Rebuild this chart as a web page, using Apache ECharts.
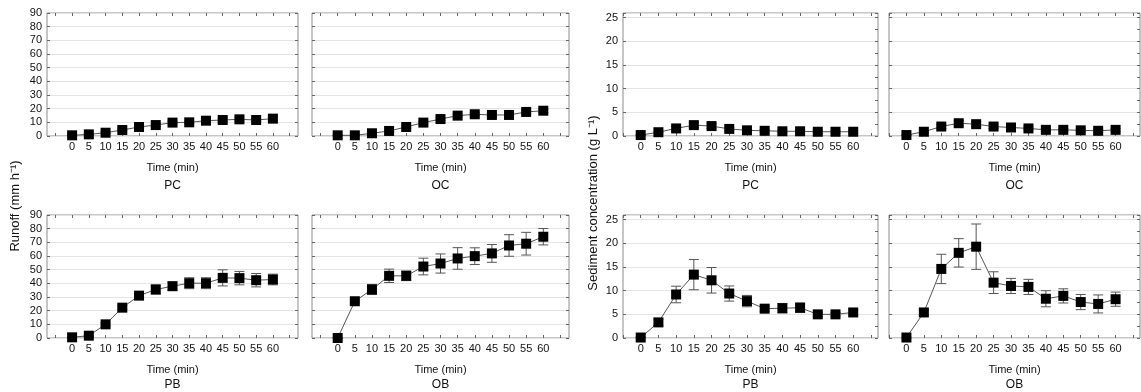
<!DOCTYPE html>
<html>
<head>
<meta charset="utf-8">
<script src="https://cdn.jsdelivr.net/npm/echarts@6/dist/echarts.min.js"></script>
<style>
html,body{margin:0;padding:0;background:#fff;}
#chart{width:1141px;height:392px;}
</style>
</head>
<body>
<div id="chart"></div>
<script>
// ---- data ----
const times = [0, 5, 10, 15, 20, 25, 30, 35, 40, 45, 50, 55, 60];

const runoffPC = [0.5, 1.2, 2.4, 4.4, 6.6, 8.0, 9.8, 10.0, 11.2, 11.7, 12.2, 11.7, 12.7];
const runoffPCErr = [0.2, 0.3, 0.5, 0.8, 1.0, 1.0, 1.0, 1.0, 1.2, 1.3, 1.3, 1.2, 1.3];
const runoffOC = [0.5, 0.5, 2.0, 3.7, 6.6, 9.8, 12.4, 14.9, 15.9, 15.4, 15.4, 17.6, 18.5];
const runoffOCErr = [0.2, 0.2, 0.5, 0.8, 1.0, 1.0, 1.0, 1.0, 1.2, 1.2, 1.2, 1.2, 1.3];
const runoffPB = [0.5, 1.7, 10.0, 22.2, 31.0, 35.5, 37.9, 40.1, 40.1, 44.0, 43.8, 42.3, 42.8];
const runoffPBErr = [0.3, 0.5, 1.0, 1.2, 2.7, 3.3, 3.0, 4.0, 4.0, 5.9, 4.9, 4.9, 3.9];
const runoffOB = [0.0, 26.9, 35.5, 45.5, 45.5, 52.3, 54.5, 58.2, 59.9, 61.9, 67.7, 69.0, 74.1];
const runoffOBErr = [0.2, 1.0, 3.7, 4.9, 3.5, 6.1, 7.0, 7.9, 6.1, 6.5, 7.9, 8.3, 6.0];

const sedPC = [0.2, 0.8, 1.6, 2.3, 2.1, 1.5, 1.2, 1.1, 1.0, 1.0, 0.9, 0.9, 0.9];
const sedPCErr = [0.1, 0.2, 0.4, 0.5, 0.5, 0.3, 0.3, 0.3, 0.3, 0.3, 0.3, 0.3, 0.3];
const sedOC = [0.2, 0.9, 2.0, 2.7, 2.5, 2.0, 1.8, 1.6, 1.3, 1.3, 1.2, 1.1, 1.3];
const sedOCErr = [0.1, 0.2, 0.4, 0.5, 0.5, 0.4, 0.4, 0.3, 0.3, 0.3, 0.3, 0.3, 0.3];
const sedPB = [0.1, 3.3, 9.2, 13.4, 12.2, 9.4, 7.8, 6.2, 6.3, 6.4, 5.0, 5.0, 5.4];
const sedPBErr = [0.1, 0.7, 1.75, 3.2, 2.7, 1.6, 1.2, 0.5, 1.0, 1.0, 0.4, 0.4, 0.5];
const sedOB = [0.1, 5.4, 14.6, 18.0, 19.3, 11.7, 11.0, 10.8, 8.3, 8.9, 7.6, 7.2, 8.2];
const sedOBErr = [0.1, 0.5, 3.1, 3.0, 4.8, 2.3, 1.6, 1.6, 1.7, 1.5, 1.6, 1.9, 1.5];

const runoffYLabels = [0, 10, 20, 30, 40, 50, 60, 70, 80, 90];
const sedYLabels = [0, 5, 10, 15, 20, 25];
const xTicks = [-5, 0, 5, 10, 15, 20, 25, 30, 35, 40, 45, 50, 55, 60, 65];

const panelNames = ['PC', 'OC', 'PB', 'OB', 'PC', 'OC', 'PB', 'OB'];
const panelValues = [runoffPC, runoffOC, runoffPB, runoffOB, sedPC, sedOC, sedPB, sedOB];
const panelErrors = [runoffPCErr, runoffOCErr, runoffPBErr, runoffOBErr, sedPCErr, sedOCErr, sedPBErr, sedOBErr];

// ---- layout (styles/positions) ----
const FONT = 'Liberation Sans, Arial, sans-serif';
const boxes = [
  {left: 47, top: 13, width: 251, height: 123},
  {left: 312, top: 13, width: 257, height: 123},
  {left: 47, top: 215, width: 251, height: 123},
  {left: 312, top: 215, width: 257, height: 123},
  {left: 623, top: 13, width: 255, height: 123},
  {left: 889, top: 13, width: 251, height: 123},
  {left: 623, top: 215, width: 255, height: 123},
  {left: 889, top: 215, width: 251, height: 123}
];

const grids = [], xAxes = [], yAxes = [], series = [];
boxes.forEach((b, i) => {
  const sed = i >= 4;
  const bottomRow = (i % 4) >= 2;
  const showY = (i % 2) === 0;
  grids.push({left: b.left, top: b.top, width: b.width, height: b.height,
    show: true, borderColor: '#8c8c8c', borderWidth: 1, backgroundColor: '#fff',
    containLabel: false, outerBoundsMode: 'none'});
  const xmin = sed ? -5 : -7.5, xmax = sed ? 67 : 67.5;
  const tickStyle = {show: true, inside: true, length: 3, customValues: xTicks, lineStyle: {color: '#666'}};
  xAxes.push({
    type: 'value', gridIndex: i, position: 'bottom', min: xmin, max: xmax,
    axisLine: {show: false, onZero: false}, splitLine: {show: false},
    axisTick: tickStyle,
    axisLabel: {customValues: times, color: '#111', fontFamily: FONT, fontSize: 11, margin: 5},
    name: '{a|Time (min)}\n{b|' + panelNames[i] + '}',
    nameLocation: 'middle', nameGap: bottomRow ? 24 : 23,
    nameTextStyle: {
      rich: {
        a: {fontFamily: FONT, fontSize: 11, color: '#111', lineHeight: bottomRow ? 15 : 18},
        b: {fontFamily: FONT, fontSize: 12, color: '#111', lineHeight: bottomRow ? 15 : 18}
      }
    }
  });
  xAxes.push({
    type: 'value', gridIndex: i, position: 'top', min: xmin, max: xmax,
    axisLine: {show: false, onZero: false}, splitLine: {show: false},
    axisTick: tickStyle, axisLabel: {show: false}
  });
  const ymax = sed ? 26 : 90;
  const yint = sed ? 5 : 10;
  yAxes.push({
    type: 'value', gridIndex: i, position: 'left', min: 0, max: ymax, interval: yint,
    axisLine: {show: false, onZero: false},
    axisTick: {show: true, inside: true, length: 3, lineStyle: {color: '#666'}},
    splitLine: {show: true, lineStyle: {color: '#e4e4e4', width: 1}},
    axisLabel: {show: showY, customValues: sed ? sedYLabels : runoffYLabels,
      color: '#111', fontFamily: FONT, fontSize: 11, margin: 5}
  });
  yAxes.push({
    type: 'value', gridIndex: i, position: 'right', min: 0, max: ymax, interval: yint,
    axisLine: {show: false, onZero: false}, splitLine: {show: false},
    axisTick: {show: true, inside: true, length: 3, lineStyle: {color: '#666'}},
    minorTick: {show: sed, splitNumber: 2, length: 3, lineStyle: {color: '#666'}},
    axisLabel: {show: false}
  });

  const vals = panelValues[i], errs = panelErrors[i];
  series.push({
    type: 'custom', xAxisIndex: 2 * i, yAxisIndex: 2 * i, z: 2, silent: true,
    data: times.map((t, k) => [t, vals[k] - errs[k], vals[k] + errs[k]]),
    renderItem: function (params, api) {
      const x = api.value(0);
      const lo = api.coord([x, api.value(1)]);
      const hi = api.coord([x, api.value(2)]);
      const w = 5;
      const st = {stroke: '#555', lineWidth: 1};
      return {type: 'group', children: [
        {type: 'line', shape: {x1: lo[0], y1: lo[1], x2: hi[0], y2: hi[1]}, style: st},
        {type: 'line', shape: {x1: lo[0] - w, y1: lo[1], x2: lo[0] + w, y2: lo[1]}, style: st},
        {type: 'line', shape: {x1: hi[0] - w, y1: hi[1], x2: hi[0] + w, y2: hi[1]}, style: st}
      ]};
    }
  });
  series.push({
    type: 'line', xAxisIndex: 2 * i, yAxisIndex: 2 * i, z: 3,
    data: times.map((t, k) => [t, vals[k]]),
    symbol: 'rect', symbolSize: 10,
    itemStyle: {color: '#000'},
    lineStyle: {color: '#555', width: 1},
    animation: false
  });
});

const chart = echarts.init(document.getElementById('chart'), null, {renderer: 'canvas'});
chart.setOption({
  animation: false,
  backgroundColor: '#fff',
  grid: grids,
  xAxis: xAxes,
  yAxis: yAxes,
  series: series,
  graphic: [
    {type: 'text', x: 15, y: 206, rotation: Math.PI / 2,
      style: {text: 'Runoff (mm h⁻¹)', fill: '#111', font: '13px ' + FONT, align: 'center', verticalAlign: 'middle'}},
    {type: 'text', x: 593, y: 203, rotation: Math.PI / 2,
      style: {text: 'Sediment concentration (g L⁻¹)', fill: '#111', font: '13px ' + FONT, align: 'center', verticalAlign: 'middle'}}
  ]
});
</script>
</body>
</html>
